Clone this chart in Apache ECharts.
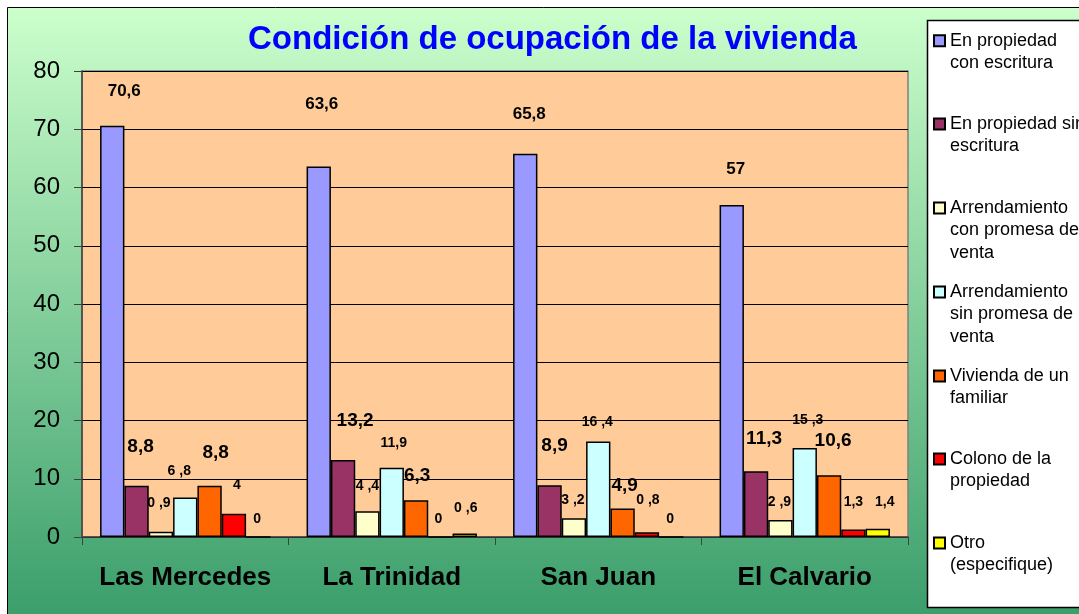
<!DOCTYPE html>
<html>
  <head>
    <meta charset="utf-8">
    <title>Condición de ocupación de la vivienda</title>
    <style>
      html, body { margin: 0; padding: 0; background: #fff; }
    </style>
  </head>
  <body>
    <div id="main" style="width: 1079px;height:614px;"></div>

  <script src="https://cdn.jsdelivr.net/npm/echarts@6/dist/echarts.min.js" charset="utf-8"></script>
  <script type="text/javascript">
  // datos
  var categories = ['Las Mercedes', 'La Trinidad', 'San Juan', 'El Calvario'];
  var seriesNames = ['En propiedad con escritura', 'En propiedad sin escritura',
    'Arrendamiento con promesa de venta', 'Arrendamiento sin promesa de venta',
    'Vivienda de un familiar', 'Colono de la propiedad', 'Otro (especifique)'];
  var legendLabels = ['En propiedad\ncon escritura', 'En propiedad sin\nescritura',
    'Arrendamiento\ncon promesa de\nventa', 'Arrendamiento\nsin promesa de\nventa',
    'Vivienda de un\nfamiliar', 'Colono de la\npropiedad', 'Otro\n(especifique)'];

  var conEscritura     = [70.6, 63.6, 65.8, 57];
  var sinEscritura     = [8.8, 13.2, 8.9, 11.3];
  var arrConPromesa    = [0.9, 4.4, 3.2, 2.9];
  var arrSinPromesa    = [6.8, 11.9, 16.4, 15.3];
  var viviendaFamiliar = [8.8, 6.3, 4.9, 10.6];
  var colono           = [4, 0, 0.8, 1.3];
  var otro             = [0, 0.6, 0, 1.4];
  var yTicks = { min: 0, max: 80, interval: 10 };

  var allValues = [conEscritura, sinEscritura, arrConPromesa, arrSinPromesa,
    viviendaFamiliar, colono, otro];
  var colors = ['#9999ff', '#993366', '#ffffcc', '#ccffff', '#ff6600', '#ff0000', '#ffff00'];

  // ajustes de etiquetas (como en la hoja original, van un poco desplazadas)
  var labelOffsets = [
    [[12, -26], [3, -54], [4, -31], [4, -27]],
    [[4, -29], [12, -30], [5, -30], [8, -23]],
    [[-2, -22], [0, -18], [-1, -11], [-1, -11]],
    [[-6, -19], [2, -18], [-1, -12], [3, -21]],
    [[6, -23], [1, -15], [2, -13], [4, -25]],
    [[3, -22], [-2, -10], [1, -25], [0, -20]],
    [[-1, -10], [1, -18], [-1, -10], [7, -20]]
  ];
  var labelSizes = [17, 19, 14, 14, 19, 14, 14];
  var labelSpaced = [
    [false, false, false, false],
    [false, false, false, false],
    [true, true, true, true],
    [true, false, true, true],
    [false, false, false, false],
    [false, false, true, false],
    [false, true, false, false]
  ];
  var legendTops = [40.7, 124, 208, 292, 376, 459, 543];

  var FONT = 'Liberation Sans, Arial, sans-serif';
  var LH = 22.5;

  var myChart = echarts.init(document.getElementById('main'));

  var series = allValues.map(function (vals, s) {
    return {
      name: seriesNames[s],
      type: 'bar',
      barGap: '0%',
      barCategoryGap: '17.5%',
      itemStyle: { color: colors[s], borderColor: '#000', borderWidth: 1.5 },
      data: vals.map(function (v, i) {
        return {
          value: v,
          label: {
            show: true,
            position: 'top',
            distance: 0,
            offset: labelOffsets[s][i],
            fontSize: labelSizes[s],
            fontWeight: 'bold',
            fontFamily: FONT,
            color: '#000'
          }
        };
      }),
      label: {
        formatter: function (p) {
          var t = String(p.value).replace('.', labelSpaced[p.seriesIndex][p.dataIndex] ? ' ,' : ',');
          return t;
        }
      }
    };
  });

  // una leyenda por elemento para poder colocar cada una;
  // se anteponen lineas vacias para que la primera linea quede junto al icono
  var legends = seriesNames.map(function (name, s) {
    var lines = legendLabels[s].split('\n').length;
    var pre = '';
    for (var k = 1; k < lines; k++) pre += ' \n';
    return {
      orient: 'vertical',
      left: 933,
      top: legendTops[s] - (2 * lines - 1) * LH / 2,
      padding: 0,
      itemWidth: 11,
      itemHeight: 11,
      icon: 'rect',
      selectedMode: false,
      data: [name],
      formatter: function () { return pre + legendLabels[s]; },
      textStyle: {
        fontSize: 18,
        fontFamily: FONT,
        color: '#000',
        lineHeight: LH
      }
    };
  });

  var option = {
    backgroundColor: '#ffffff',
    animation: false,
    title: {
      text: 'Condición de ocupación de la vivienda',
      left: 243,
      top: 18,
      textStyle: { color: '#0000ff', fontSize: 33, fontWeight: 'bold', fontFamily: FONT }
    },
    graphic: [
      {
        type: 'rect', z: -10, silent: true,
        shape: { x: 7.5, y: 7.5, width: 1100, height: 640 },
        style: {
          fill: new echarts.graphic.LinearGradient(0, 0, 0, 1, [
            { offset: 0, color: '#ccffcc' },
            { offset: 1, color: '#339966' }
          ]),
          stroke: '#000', lineWidth: 1
        }
      },
      {
        type: 'rect', z: -5, silent: true,
        shape: { x: 927.5, y: 20.5, width: 170, height: 587 },
        style: { fill: '#ffffff', stroke: '#000', lineWidth: 1.5 }
      }
    ],
    legend: legends,
    grid: {
      left: 82, right: 171, top: 71, bottom: 77,
      show: true,
      backgroundColor: '#ffcc99',
      borderColor: '#808080',
      borderWidth: 1.5
    },
    xAxis: {
      type: 'category',
      data: categories,
      axisLine: { lineStyle: { color: '#404040', width: 1.5 } },
      axisTick: { show: true, length: 8, lineStyle: { color: '#404040' } },
      axisLabel: { interval: 0, fontSize: 26, fontWeight: 'bold', color: '#000', fontFamily: FONT, margin: 28 }
    },
    yAxis: {
      type: 'value',
      min: yTicks.min,
      max: yTicks.max,
      interval: yTicks.interval,
      axisLine: { show: true, lineStyle: { color: '#404040', width: 1.5 } },
      axisTick: { show: true, length: 8, lineStyle: { color: '#404040' } },
      axisLabel: { fontSize: 24, color: '#000', fontFamily: FONT, margin: 22 },
      splitLine: { lineStyle: { color: '#000', width: 1 } }
    },
    series: series
  };
  myChart.setOption(option);
  </script>
  </body>
</html>
